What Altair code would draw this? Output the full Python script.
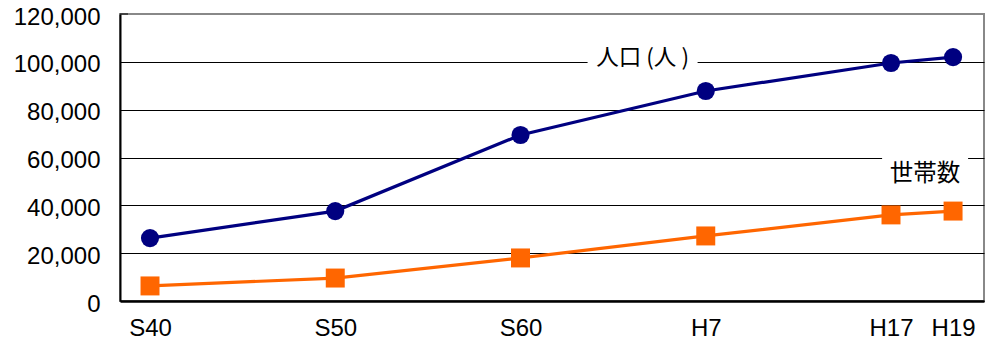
import altair as alt
import pandas as pd

# Survey points (Showa / Heisei era years) and their position along the axis
eras = ["S40", "S50", "S60", "H7", "H17", "H19"]
x_pos = [0, 10, 20, 30, 40, 43.35]

population = [26300, 37600, 69400, 87800, 99500, 102000]
households = [6300, 9600, 18000, 27200, 36000, 37600]

y_ticks = [0, 20000, 40000, 60000, 80000, 100000, 120000]

pop_df = pd.DataFrame({"x": x_pos, "era": eras, "value": population})
hh_df = pd.DataFrame({"x": x_pos, "era": eras, "value": households})

label_map = "{" + ",".join(f"'{v}':'{e}'" for v, e in zip(x_pos, eras)) + "}"

x_scale = alt.Scale(domain=[-1.62, 45.02], nice=False, zero=False)
y_scale = alt.Scale(domain=[0, 120000], nice=False)

x_enc = alt.X(
    "x:Q",
    scale=x_scale,
    axis=alt.Axis(
        values=x_pos,
        labelExpr=f"{label_map}[datum.value]",
        title=None,
        grid=False,
        ticks=False,
        domainColor="black",
        domainWidth=2.5,
        labelFont="Liberation Sans",
        labelFontSize=24,
        labelColor="black",
        labelPadding=15,
    ),
)
y_enc = alt.Y(
    "value:Q",
    scale=y_scale,
    axis=alt.Axis(
        values=y_ticks,
        format=",.0f",
        title=None,
        ticks=False,
        grid=True,
        gridColor={"condition": {"test": "datum.value >= 120000", "value": "#888888"}, "value": "black"},
        gridWidth=1,
        domainColor="black",
        domainWidth=2,
        labelFont="Liberation Sans",
        labelFontSize=24,
        labelColor="black",
        labelPadding=20,
        labelBaseline="middle",
        labelOffset=3,
    ),
)

NAVY = "#000080"
ORANGE = "#FF6600"

hh_line = alt.Chart(hh_df).mark_line(color=ORANGE, strokeWidth=3.2).encode(x=x_enc, y=y_enc)
hh_pts = alt.Chart(hh_df).mark_point(
    shape="square", filled=True, color=ORANGE, size=360, opacity=1
).encode(x="x:Q", y="value:Q")

pop_line = alt.Chart(pop_df).mark_line(color=NAVY, strokeWidth=3.2).encode(x="x:Q", y="value:Q")
pop_pts = alt.Chart(pop_df).mark_point(
    shape="circle", filled=True, color=NAVY, size=330, opacity=1
).encode(x="x:Q", y="value:Q")

# Short inward tick at the top of the value axis
top_tick = alt.Chart(pd.DataFrame({"v": [120000]})).mark_rule(
    color="black", strokeWidth=1
).encode(y="v:Q", x=alt.value(0), x2=alt.value(8))

# Series labels sitting on white boxes over the gridlines
pop_lab = pd.DataFrame({"x": [26.59], "value": [101800], "t": ["人口 (人 )"]})
hh_lab = pd.DataFrame({"x": [41.84], "value": [53100], "t": ["世帯数"]})

pop_box = alt.Chart(pop_lab).mark_rect(
    color="white", xOffset=-55, x2Offset=55, yOffset=-14, y2Offset=14
).encode(x="x:Q", x2="x:Q", y="value:Q", y2="value:Q")
hh_box = alt.Chart(hh_lab).mark_rect(
    color="white", xOffset=-43, x2Offset=43, yOffset=-24, y2Offset=22
).encode(x="x:Q", x2="x:Q", y="value:Q", y2="value:Q")

pop_text = alt.Chart(pop_lab).mark_text(
    font="Noto Sans CJK JP", fontSize=22.5, color="black", baseline="middle", align="center"
).encode(x="x:Q", y="value:Q", text="t:N")
hh_text = alt.Chart(hh_lab).mark_text(
    font="Noto Sans CJK JP", fontSize=23.5, color="black", baseline="middle", align="center"
).encode(x="x:Q", y="value:Q", text="t:N")

chart = (
    alt.layer(
        hh_line, pop_box, hh_box, pop_text, hh_text, top_tick,
        hh_pts, pop_line, pop_pts,
    )
    .properties(
        width=864,
        height=287,
        autosize=alt.AutoSizeParams(type="none"),
        padding={"left": 120, "top": 14, "right": 5, "bottom": 55},
        background="white",
    )
    .configure_view(stroke="#888888", strokeWidth=2)
)

chart.save("out.html", embed_options={"renderer": "svg", "actions": False})
